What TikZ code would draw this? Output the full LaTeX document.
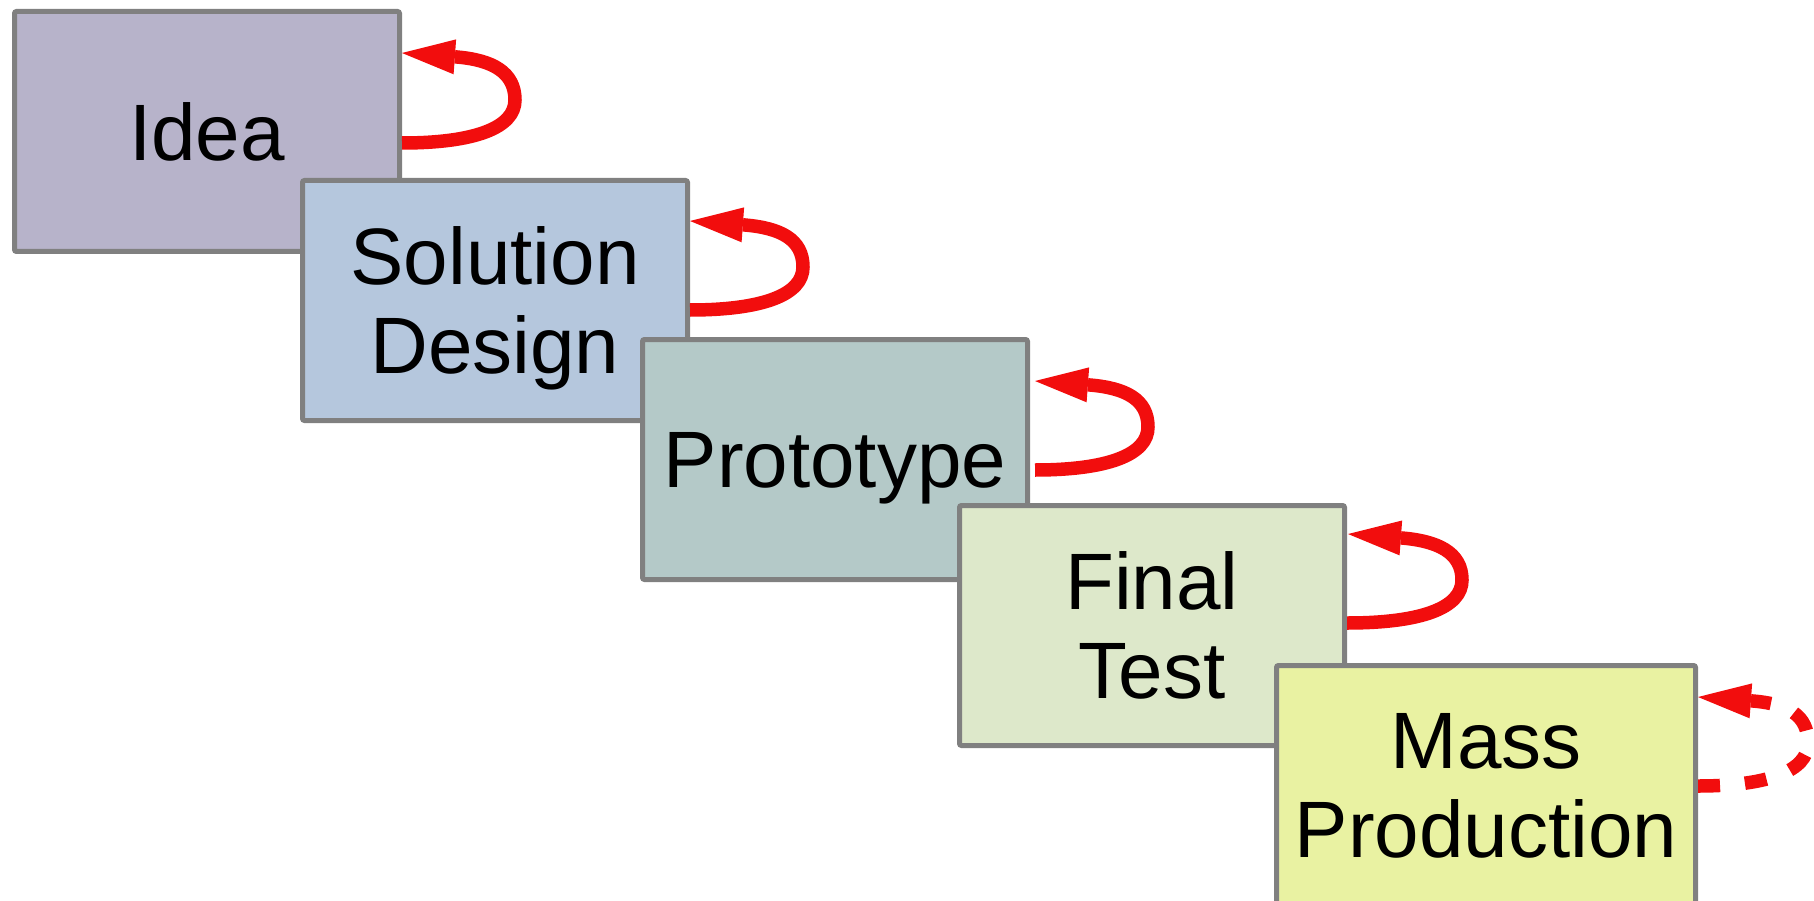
\documentclass[tikz,border=0pt]{standalone}
\usepackage{fontspec}
\setmainfont{Liberation Sans}
\usetikzlibrary{arrows.meta,calc}
\definecolor{boxline}{RGB}{128,128,128}
\definecolor{arrowred}{RGB}{242,13,13}
\definecolor{cidea}{RGB}{183,179,202}
\definecolor{csol}{RGB}{181,199,221}
\definecolor{cproto}{RGB}{180,201,200}
\definecolor{cfinal}{RGB}{221,232,202}
\definecolor{cmass}{RGB}{233,242,162}
\tikzset{
  stage/.style={draw=boxline, line width=5pt, rounded corners=2pt, inner sep=0pt,
    minimum width=385pt, minimum height=240pt, align=center, text depth=0pt,
    font={\fontsize{80}{89}\selectfont}},
  loopline/.style={draw=arrowred, line width=13.5pt,
    -{Triangle[length=53pt,width=35pt,line width=0pt]}},
}
\begin{document}
\begin{tikzpicture}[x=1pt,y=-1pt]
\useasboundingbox (0,0) rectangle (1814,901);
\node[stage, fill=cidea, anchor=north west] (idea) at (12,9) {Idea};
\node[stage, fill=csol, anchor=north west] (sol) at (300,178) {Solution\\Design};
\node[stage, fill=cproto, anchor=north west] (proto) at (640,337) {Prototype};
\node[stage, fill=cfinal, anchor=north west] (final) at (957,503) {Final\\Test};
\node[stage, fill=cmass, anchor=north west, minimum width=419pt] (mass) at (1274,663) {Mass\\Production};

% self loops: start (S) -> rightmost (R) -> head back (H) -- tip (T)
\draw[loopline] ($(idea.north east)+(0,134)$) .. controls +(72,0) and +(0,28) .. ++(113,-43)
  .. controls +(0,-28) and +(35,3) .. ++(-58,-43) -- ($(idea.north east)+(0,44)$);
\draw[loopline] ($(sol.north east)+(0,132)$) .. controls +(72,0) and +(0,28) .. ++(113,-43)
  .. controls +(0,-28) and +(35,3) .. ++(-58,-42) -- ($(sol.north east)+(0,43)$);
\draw[loopline] ($(proto.north east)+(5,133)$) .. controls +(72,0) and +(0,28) .. ++(113,-43)
  .. controls +(0,-28) and +(35,3) .. ++(-58,-42) -- ($(proto.north east)+(5,44)$);
\draw[loopline] ($(final.north east)+(0,120)$) .. controls +(74,0) and +(0,28) .. ++(115,-43)
  .. controls +(0,-28) and +(35,3) .. ++(-60,-42) -- ($(final.north east)+(1,31)$);
\draw[loopline, dash pattern=on 22pt off 25pt] ($(mass.north east)+(0,123)$) .. controls +(70,0) and +(0,28) .. ++(110,-43)
  .. controls +(0,-28) and +(35,3) .. ++(-55,-42) -- ($(mass.north east)+(0,34)$);
\end{tikzpicture}
\end{document}
